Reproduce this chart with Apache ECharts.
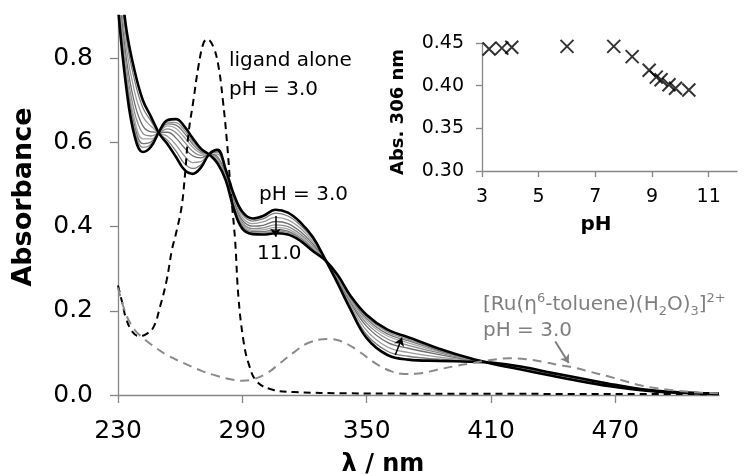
<!DOCTYPE html>
<html><head><meta charset="utf-8">
<script src="https://cdn.jsdelivr.net/npm/echarts@6/dist/echarts.min.js"></script>
<style>html,body{margin:0;padding:0;background:#fff}#c{width:749px;height:476px}</style>
</head><body><div id="c"></div>
<script>
// ---- main spectra: wavelength grid (nm) ----
const wavelengths = [230,234,238,242,246,250,254,258,262,266,270,274,278,282,286,290,295,300,306,312,318,324,330,336,342,350,360,370,385,400,410,425,440,455,470,490,520];
const absPH3  = [1.05,0.87,0.77,0.70,0.66,0.62,0.595,0.565,0.535,0.525,0.54,0.572,0.582,0.535,0.475,0.435,0.419,0.425,0.44,0.433,0.41,0.375,0.322,0.265,0.205,0.135,0.095,0.084,0.081,0.079,0.077,0.067,0.052,0.038,0.024,0.010,0.003];
const absPH11 = [0.92,0.73,0.615,0.577,0.59,0.627,0.653,0.655,0.638,0.61,0.585,0.571,0.55,0.51,0.44,0.395,0.382,0.381,0.384,0.381,0.366,0.342,0.32,0.285,0.237,0.19,0.155,0.137,0.11,0.087,0.075,0.06,0.045,0.031,0.019,0.008,0.003];
const absGray1 = [1.031,0.849,0.747,0.682,0.650,0.621,0.604,0.579,0.550,0.538,0.547,0.572,0.577,0.531,0.470,0.429,0.413,0.418,0.432,0.425,0.403,0.370,0.322,0.268,0.210,0.143,0.104,0.092,0.085,0.080,0.077,0.066,0.051,0.037,0.023,0.010,0.003];
const absGray2 = [1.008,0.825,0.720,0.661,0.638,0.622,0.614,0.594,0.568,0.552,0.554,0.572,0.572,0.527,0.464,0.422,0.407,0.411,0.422,0.416,0.396,0.364,0.321,0.271,0.215,0.153,0.114,0.101,0.090,0.082,0.076,0.065,0.050,0.036,0.022,0.009,0.003];
const absGray3 = [0.985,0.800,0.693,0.639,0.625,0.624,0.624,0.610,0.587,0.568,0.563,0.572,0.566,0.523,0.458,0.415,0.401,0.403,0.412,0.407,0.388,0.359,0.321,0.275,0.221,0.163,0.125,0.111,0.096,0.083,0.076,0.064,0.049,0.035,0.022,0.009,0.003];
const absGray4 = [0.967,0.780,0.671,0.621,0.615,0.624,0.632,0.623,0.601,0.579,0.569,0.571,0.562,0.519,0.453,0.409,0.395,0.397,0.404,0.400,0.382,0.354,0.321,0.278,0.225,0.170,0.133,0.118,0.100,0.084,0.076,0.063,0.048,0.034,0.021,0.009,0.003];
const absGray5 = [0.953,0.765,0.654,0.608,0.608,0.625,0.639,0.633,0.612,0.589,0.574,0.571,0.558,0.516,0.449,0.405,0.391,0.392,0.398,0.394,0.377,0.350,0.321,0.280,0.229,0.176,0.140,0.124,0.103,0.085,0.076,0.062,0.047,0.033,0.020,0.009,0.003];
const absGray6 = [0.941,0.752,0.640,0.597,0.601,0.626,0.644,0.641,0.622,0.596,0.578,0.571,0.555,0.514,0.446,0.401,0.388,0.388,0.393,0.389,0.373,0.347,0.320,0.282,0.232,0.181,0.145,0.129,0.105,0.086,0.075,0.061,0.046,0.032,0.020,0.008,0.003];
const absGray7 = [0.932,0.743,0.629,0.588,0.596,0.626,0.648,0.647,0.629,0.602,0.581,0.571,0.553,0.512,0.443,0.399,0.385,0.385,0.389,0.386,0.370,0.345,0.320,0.283,0.234,0.185,0.150,0.132,0.107,0.086,0.075,0.061,0.046,0.032,0.019,0.008,0.003];

// ligand alone, pH 3.0 (black dashed)
const ligandWl  = [230,232,234,237,240,243,247,250.3,253.5,256,258.3,260.7,262.4,264,266.4,268.8,271.2,273,276,278.5,280.6,282.5,284.5,286.5,288.1,290.5,293,297,305,315,340,400,520];
const ligandAbs = [0.26,0.22,0.18,0.15,0.14,0.143,0.16,0.21,0.273,0.344,0.39,0.447,0.527,0.62,0.70,0.78,0.835,0.845,0.827,0.78,0.70,0.606,0.479,0.368,0.233,0.13,0.075,0.032,0.012,0.007,0.004,0.003,0.002];

// [Ru(eta6-toluene)(H2O)3]2+, pH 3.0 (gray dashed)
const ruWl  = [230,234,238,241,246,253.6,262,270,278,285.6,290,295,302,308,314.5,322,331,338,345,350,356,362,368,375,384,392,400,410,419,427,435,442,450,458,466,474,482,490,498,510,520];
const ruAbs = [0.255,0.19,0.155,0.14,0.12,0.095,0.075,0.058,0.045,0.036,0.034,0.037,0.052,0.075,0.10,0.124,0.133,0.127,0.108,0.09,0.07,0.056,0.05,0.051,0.06,0.068,0.075,0.083,0.087,0.085,0.079,0.072,0.065,0.055,0.045,0.034,0.023,0.016,0.011,0.006,0.004];

// inset: Abs. 306 nm vs pH
const insetPH  = [3.25,3.7,4.05,6.0,7.65,8.3,8.9,9.15,9.32,9.6,9.83,10.3];
const insetAbs = [0.443,0.444,0.445,0.446,0.446,0.434,0.418,0.410,0.407,0.401,0.397,0.395];

// tick labels
const mainXTicks = [230,290,350,410,470];
const mainYTicks = [0,0.2,0.4,0.6,0.8];
const insetXTicks = [3,5,7,9,11];
const insetYTicks = [0.30,0.35,0.40,0.45];

const FONT = 'DejaVu Sans';
const AX = '#868686';
const zip = (xs, ys) => xs.map((x, i) => [x, ys[i]]);

const grayCurves = [absGray1, absGray2, absGray3, absGray4, absGray5, absGray6, absGray7];
const grayColors = ['#7c7c7c','#9a9a9a','#6e6e6e','#8a8a8a','#a5a5a5','#767676','#909090'];

const series = [];
grayCurves.forEach((g, i) => series.push({
  type: 'line', xAxisIndex: 0, yAxisIndex: 0, data: zip(wavelengths, g),
  smooth: 0.4, symbol: 'none', lineStyle: { color: grayColors[i], width: 1.3 }, z: 2
}));
series.push({ type: 'line', data: zip(wavelengths, absPH3), smooth: 0.4, symbol: 'none',
  lineStyle: { color: '#000', width: 2.6 }, z: 3 });
series.push({ type: 'line', data: zip(wavelengths, absPH11), smooth: 0.4, symbol: 'none',
  lineStyle: { color: '#000', width: 2.6 }, z: 3 });
series.push({ type: 'line', data: zip(ligandWl, ligandAbs), smooth: 0.4, symbol: 'none',
  lineStyle: { color: '#000', width: 2, type: [7, 5] }, z: 4 });
series.push({ type: 'line', data: zip(ruWl, ruAbs), smooth: 0.4, symbol: 'none',
  lineStyle: { color: '#8a8a8a', width: 2, type: [9, 6] }, z: 4 });
// arrows
series.push({ type: 'line', data: [], silent: true,
  markLine: { silent: true, symbol: ['none', 'arrow'], symbolSize: 8, label: { show: false },
    animation: false,
    data: [
      [{ coord: [306, 0.425], lineStyle: { color: '#000', width: 1.5, type: 'solid' } }, { coord: [306, 0.376] }],
      [{ coord: [363.8, 0.095], lineStyle: { color: '#000', width: 1.5, type: 'solid' } }, { coord: [367, 0.136] }],
      [{ coord: [441, 0.127], lineStyle: { color: '#7f7f7f', width: 2, type: 'solid' } }, { coord: [447.5, 0.076] }]
    ] } });
// inset scatter
series.push({ type: 'scatter', xAxisIndex: 1, yAxisIndex: 1, data: zip(insetPH, insetAbs),
  symbol: 'path://M0,0L10,10M10,0L0,10', symbolSize: 13,
  itemStyle: { color: 'rgba(0,0,0,0)', borderColor: '#000', borderWidth: 2 }, z: 5 });

const txt = (x, y, text, size, extra) => Object.assign({
  type: 'text', x: x, y: y, silent: true,
  style: Object.assign({ text: text, fontSize: size, fontFamily: FONT, fill: '#000',
    align: 'left', verticalAlign: 'middle' }, extra || {})
});

const option = {
  animation: false,
  backgroundColor: '#fff',
  grid: [
    { left: 118, right: 30, top: 16, bottom: 81 },
    { left: 482, right: 12, top: 43, bottom: 305 }
  ],
  xAxis: [
    { type: 'value', gridIndex: 0, min: 230, max: 520,
      axisLine: { show: true, lineStyle: { color: AX, width: 1.3 } },
      axisTick: { show: true, length: 8, customValues: mainXTicks, lineStyle: { color: AX, width: 1.3 } },
      axisLabel: { customValues: mainXTicks, margin: 24, fontSize: 25, fontFamily: FONT, color: '#000' },
      splitLine: { show: false } },
    { type: 'value', gridIndex: 1, min: 3, max: 12,
      axisLine: { show: true, lineStyle: { color: AX, width: 1.3 } },
      axisTick: { show: true, length: 6, customValues: insetXTicks, lineStyle: { color: AX, width: 1.3 } },
      axisLabel: { customValues: insetXTicks, margin: 17, fontSize: 19, fontFamily: FONT, color: '#000' },
      splitLine: { show: false } }
  ],
  yAxis: [
    { type: 'value', gridIndex: 0, min: 0, max: 0.9,
      axisLine: { show: true, lineStyle: { color: AX, width: 1.3 } },
      axisTick: { show: true, length: 8, customValues: mainYTicks, lineStyle: { color: AX, width: 1.3 } },
      axisLabel: { customValues: mainYTicks, margin: 25, fontSize: 25, fontFamily: FONT, color: '#000',
        formatter: v => v.toFixed(1) },
      splitLine: { show: false } },
    { type: 'value', gridIndex: 1, min: 0.30, max: 0.45,
      axisLine: { show: true, lineStyle: { color: AX, width: 1.3 } },
      axisTick: { show: true, length: 6, customValues: insetYTicks, lineStyle: { color: AX, width: 1.3 } },
      axisLabel: { customValues: insetYTicks, margin: 18, fontSize: 19, fontFamily: FONT, color: '#000',
        formatter: v => v.toFixed(2) },
      splitLine: { show: false } }
  ],
  series: series,
  graphic: [
    txt(24, 197, 'Absorbance', 27, { fontWeight: 'bold', align: 'center' }),
    Object.assign(txt(24, 197, '', 1), {}),
    txt(383, 465, 'λ / nm', 24, { fontWeight: 'bold', align: 'center' }),
    txt(596, 225, 'pH', 20, { fontWeight: 'bold', align: 'center' }),
    txt(398, 112, 'Abs. 306 nm', 18, { fontWeight: 'bold', align: 'center' }),
    txt(229, 61, 'ligand alone', 20),
    txt(229, 90, 'pH = 3.0', 20),
    txt(259, 195, 'pH = 3.0', 20),
    txt(257, 254, '11.0', 20),
    { type: 'text', x: 483, y: 305, silent: true,
      style: { text: '{a|[Ru(η}{sup|6}{a|-toluene)(H}{sub|2}{a|O)}{sub|3}{a|]}{sup|2+}',
        fontFamily: FONT, fill: '#7f7f7f', align: 'left', verticalAlign: 'middle',
        rich: {
          a: { fontSize: 20, fontFamily: FONT, fill: '#7f7f7f', lineHeight: 26 },
          sup: { fontSize: 13, fontFamily: FONT, fill: '#7f7f7f', lineHeight: 14, verticalAlign: 'top' },
          sub: { fontSize: 13, fontFamily: FONT, fill: '#7f7f7f', lineHeight: 14, verticalAlign: 'bottom' }
        } } },
    txt(483, 331, 'pH = 3.0', 20, { fill: '#7f7f7f' })
  ]
};
// rotate vertical titles
option.graphic[0].rotation = Math.PI / 2;
option.graphic[4].rotation = Math.PI / 2;
option.graphic.splice(1, 1);
option.graphic[3].rotation = Math.PI / 2;
option.graphic[0].rotation = Math.PI / 2;
option.graphic[3].rotation = Math.PI / 2;

const chart = echarts.init(document.getElementById('c'), null, { renderer: 'canvas' });
chart.setOption(option);
</script>
</body></html>
